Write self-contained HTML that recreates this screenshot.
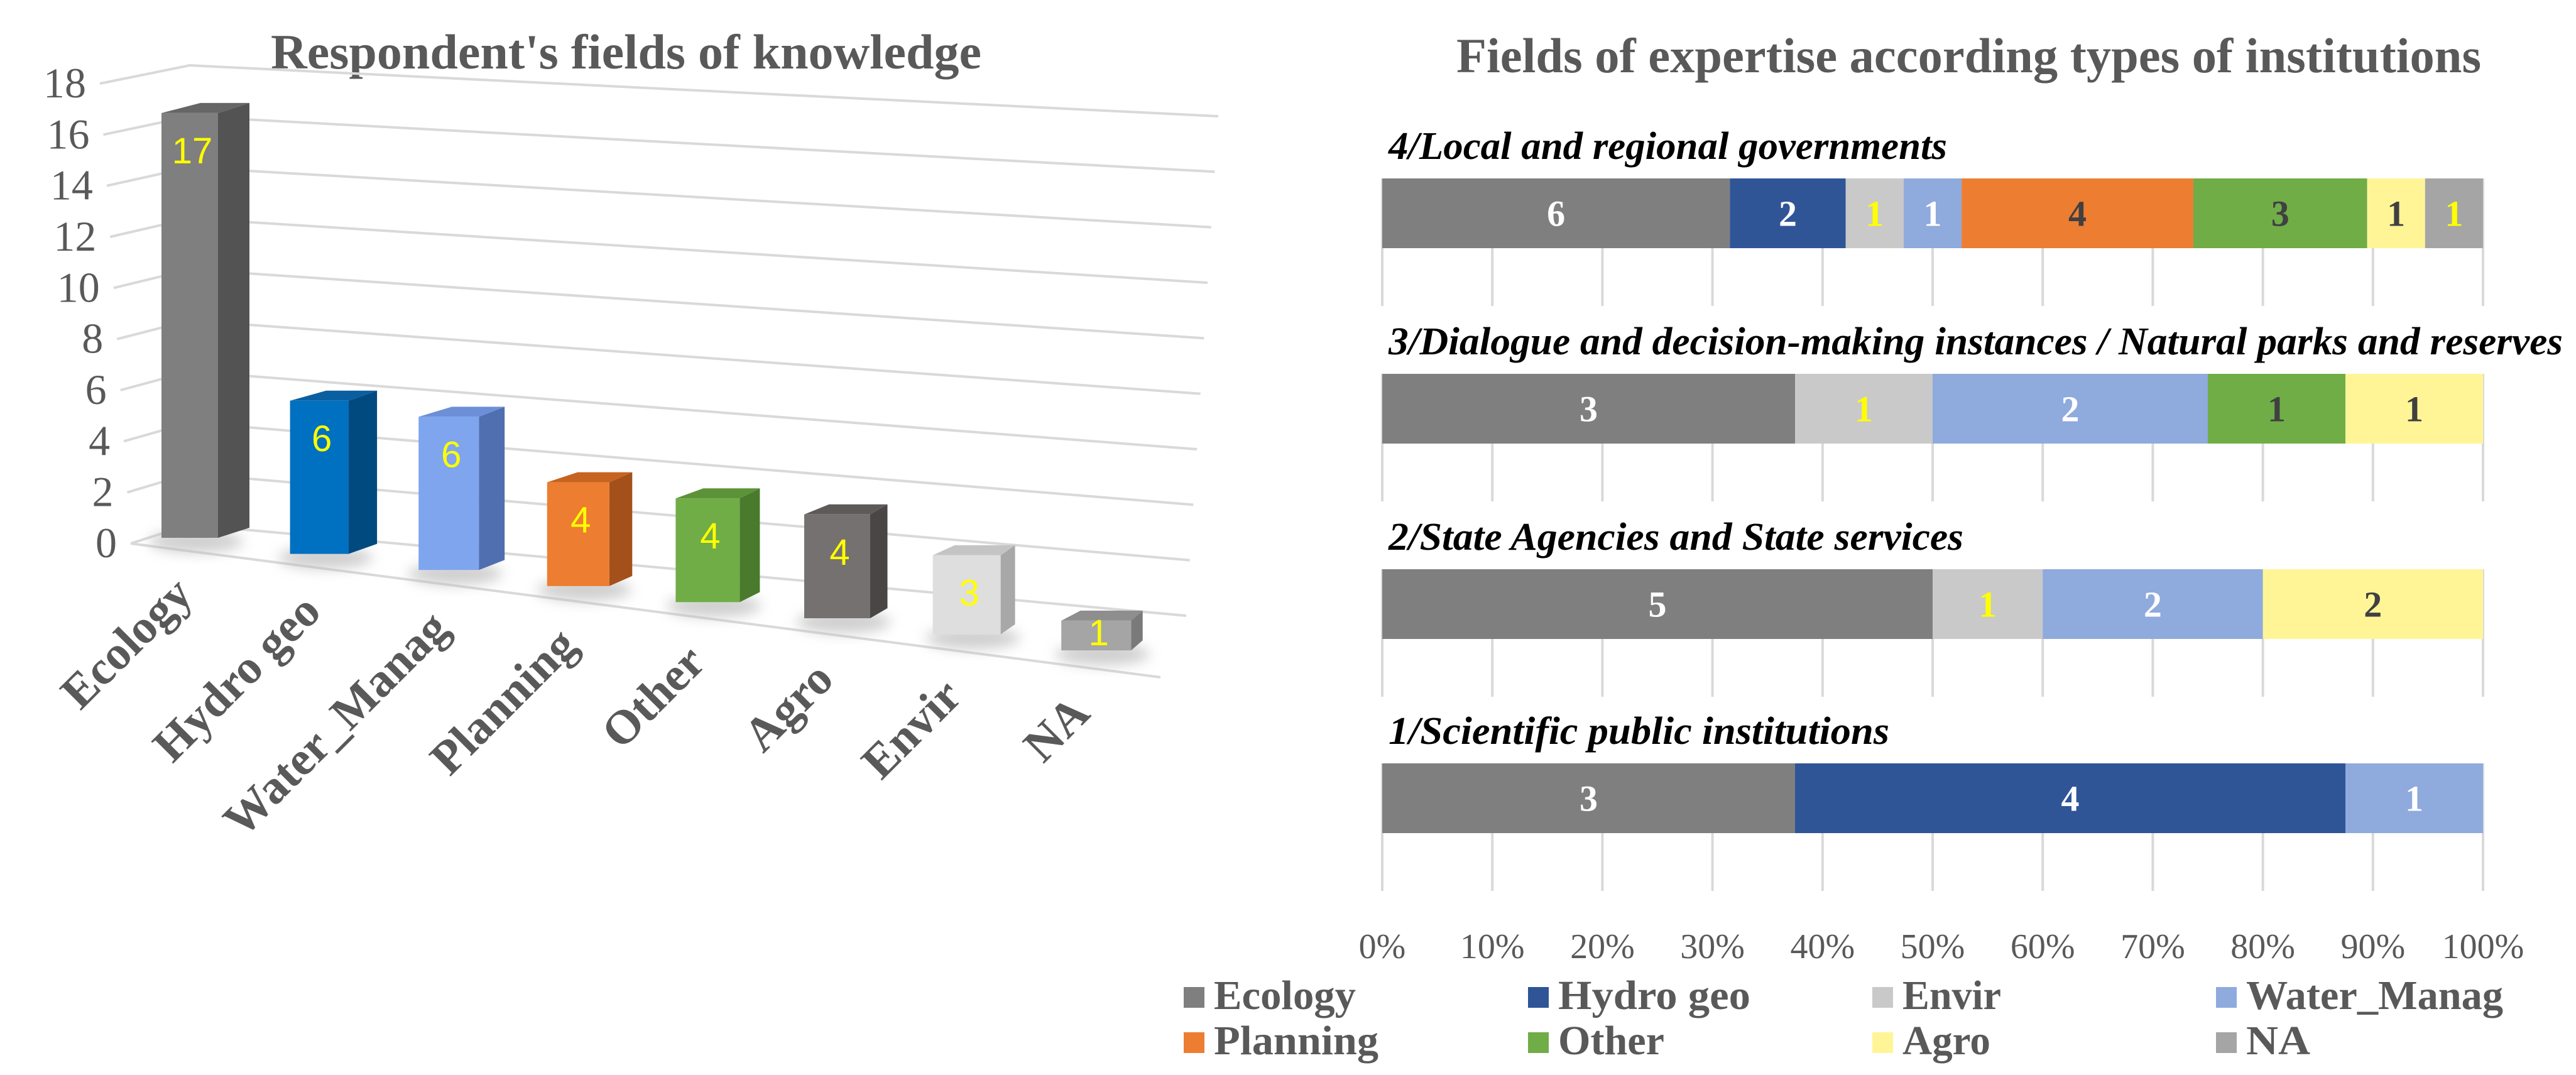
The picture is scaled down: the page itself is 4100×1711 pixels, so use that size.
<!DOCTYPE html>
<html><head><meta charset="utf-8"><style>
html,body{margin:0;padding:0;background:#fff;}
svg{display:block;}
</style></head><body>
<svg id="chart" width="4100" height="1711" viewBox="0 0 4100 1711" xmlns="http://www.w3.org/2000/svg">
<defs>
<filter id="blur" x="-50%" y="-50%" width="200%" height="200%"><feGaussianBlur stdDeviation="10"/></filter>
</defs>
<g id="left"></g>
<g id="right"></g>
</svg>
<script>
// ---------- Left chart data ----------
const leftCategories = ["Ecology","Hydro geo","Water_Manag","Planning","Other","Agro","Envir","NA"];
const leftValues = [17,6,6,4,4,4,3,1];
const leftTicks = [0,2,4,6,8,10,12,14,16,18];
// ---------- Right chart data ----------
const rowLabels = ["4/Local and regional governments","3/Dialogue and decision-making instances / Natural parks and reserves","2/State Agencies and State services","1/Scientific public institutions"];
const seriesNames = ["Ecology","Hydro geo","Envir","Water_Manag","Planning","Other","Agro","NA"];
const ecologyVals = [6,3,5,3];
const hydroVals = [2,0,0,4];
const envirVals = [1,1,1,0];
const waterVals = [1,2,2,1];
const planningVals = [4,0,0,0];
const otherVals = [3,1,0,0];
const agroVals = [1,1,2,0];
const naVals = [1,0,0,0];
const pctTicks = ["0%","10%","20%","30%","40%","50%","60%","70%","80%","90%","100%"];

const NS="http://www.w3.org/2000/svg";
function mk(tag, attrs, parent, text){
  const e=document.createElementNS(NS,tag);
  for(const k in attrs) e.setAttribute(k,attrs[k]);
  if(text!==undefined) e.textContent=text;
  parent.appendChild(e);
  return e;
}
const L=document.getElementById('left');
const R=document.getElementById('right');
const SERIF='"Liberation Serif", serif';
const SANS='"Liberation Sans", sans-serif';

// ===== LEFT CHART =====
let t=mk('text',{x:431,y:109,'font-family':SERIF,'font-weight':'bold','font-size':78,fill:'#595959',textLength:1131,lengthAdjust:'spacingAndGlyphs'},L,"Respondent's fields of knowledge");



const vmax=18;
function f(v){return (vmax-v)/vmax;}
leftTicks.forEach(v=>{
  const k=f(v);
  const lx=159+k*49, ly=133+k*732;
  const cx=302, cy=104+k*731;
  const rx=1939-k*51, ry=185+k*795;
  const p=mk('polyline',{points:`${lx},${ly} ${cx},${cy} ${rx},${ry}`,fill:'none',stroke:'#d9d9d9','stroke-width':4},L);
  
  
  const tl=mk('text',{x:lx-22,y:ly+22,'text-anchor':'end','font-family':SERIF,'font-size':68,fill:'#595959'},L,String(v));
  
  
});
let fl=mk('line',{x1:208,y1:865,x2:1847,y2:1078,stroke:'#d9d9d9','stroke-width':4},L);



const barCols=[["#7f7f7f","#535353","#666"],["#0070c0","#004a80","#0a5fa0"],["#7fa5ee","#4f6fb0","#6c8fd8"],["#ed7d31","#a3501b","#c76320"],["#70ad47","#4a7a2c","#5c9238"],["#767171","#4a4646","#5f5a5a"],["#dedede","#a8a8a8","#c4c4c4"],["#a5a5a5","#7a7a7a","#8e8e8e"]];
const unit=39.3, rise=16;
function bx(i){return 257+i*204.6;}
function by(i){return 856+i*25.6;}
function bw(i){return 90+i*3;}
function bs(i){return 50-i*4.5;}
leftValues.forEach((v,i)=>{
  const x=bx(i), yb=by(i), h=v*unit+8, yt=yb-h, fw=bw(i), sw=bs(i);
  const c=barCols[i];
  const g=mk('g',{},L);
  
  
  mk('ellipse',{cx:x+fw/2+10,cy:yb+6,rx:75,ry:18,fill:'#bbb',filter:'url(#blur)',opacity:0.7},g);
  mk('polygon',{points:`${x+fw},${yt} ${x+fw+sw},${yt-rise} ${x+fw+sw},${yb-rise} ${x+fw},${yb}`,fill:c[1]},g);
  mk('polygon',{points:`${x},${yt} ${x+sw+12},${yt-rise} ${x+fw+sw},${yt-rise} ${x+fw},${yt}`,fill:c[2]},g);
  mk('rect',{x:x,y:yt,width:fw,height:h,fill:c[0]},g);
  const lab=mk('text',{x:x+fw/2+4,y:Math.min(yt+80,yb-8),'text-anchor':'middle','font-family':SANS,'font-size':58,fill:'#ffff00'},g,String(v));
  
  
  const ex=310+i*204, ey=950+i*27;
  const cl=mk('text',{x:ex,y:ey,'text-anchor':'end','font-family':SERIF,'font-weight':'bold','font-size':76,fill:'#595959',transform:`rotate(-45 ${ex} ${ey})`},L,leftCategories[i]);
  
  
});

// ===== RIGHT CHART =====
t=mk('text',{x:2318,y:115,'font-family':SERIF,'font-weight':'bold','font-size':78,fill:'#595959',textLength:1631,lengthAdjust:'spacingAndGlyphs'},R,"Fields of expertise according types of institutions");



const x0=2200, x1=3952;
function px(p){return x0+(x1-x0)*p;}
const series=[ecologyVals,hydroVals,envirVals,waterVals,planningVals,otherVals,agroVals,naVals];
const sColors=["#7f7f7f","#2f5597","#c9c9c9","#8faadc","#ed7d31","#70ad47","#fff597","#a5a5a5"];
const lColors=["#ffffff","#ffffff","#ffff00","#ffffff","#404040","#404040","#404040","#ffff00"];
const rowTop=[284,595,906,1215];
const rowLabelW=[889,1869,915,797];
const barH=111, gridH=92;
rowLabels.forEach((name,r)=>{
  const top=rowTop[r];
  for(let k=0;k<=10;k++){
    const gl=mk('line',{x1:px(k/10),y1:top,x2:px(k/10),y2:top+barH+gridH,stroke:'#d9d9d9','stroke-width':4},R);
    
    
  }
  const rl=mk('text',{x:2210,y:top-31,'font-family':SERIF,'font-weight':'bold','font-style':'italic','font-size':62,fill:'#000',textLength:rowLabelW[r],lengthAdjust:'spacingAndGlyphs'},R,name);
  
  
  let total=0; series.forEach(s=>total+=s[r]);
  let acc=0;
  series.forEach((s,si)=>{
    const v=s[r]; if(!v) return;
    const xa=px(acc/total), xb=px((acc+v)/total);
    const seg=mk('rect',{x:xa,y:top,width:xb-xa,height:barH,fill:sColors[si]},R);
    
    
    const sl=mk('text',{x:(xa+xb)/2,y:top+barH/2+20,'text-anchor':'middle','font-family':SERIF,'font-weight':'bold','font-size':58,fill:lColors[si]},R,String(v));
    
    
    acc+=v;
  });
});
pctTicks.forEach((lab,k)=>{
  const tl=mk('text',{x:px(k/10),y:1525,'text-anchor':'middle','font-family':SERIF,'font-size':56,fill:'#595959'},R,lab);
  
  
});
const legX=[1884,2432,2980,3527];
const legY=[1606,1678];
const legW=[226,306,157,409,262,169,140,102];
seriesNames.forEach((n,i)=>{
  const col=i%4, row=Math.floor(i/4);
  const g=mk('g',{},R);
  
  
  mk('rect',{x:legX[col],y:legY[row]-35,width:33,height:33,fill:sColors[i]},g);
  mk('text',{x:legX[col]+48,y:legY[row],'font-family':SERIF,'font-weight':'bold','font-size':66,fill:'#595959',textLength:legW[i],lengthAdjust:'spacingAndGlyphs'},g,n);
});
</script>
</body></html>
